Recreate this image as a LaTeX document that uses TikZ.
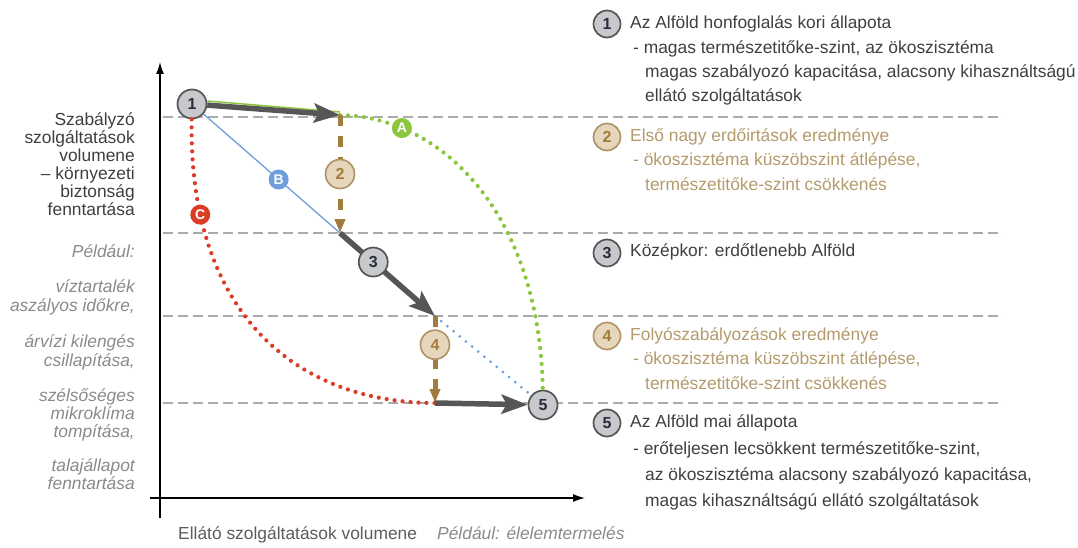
\documentclass[tikz,border=0pt]{standalone}
\usepackage{fontspec}
\setmainfont{Liberation Sans}
\usetikzlibrary{arrows.meta}

\definecolor{txtgray}{HTML}{3F3F3F}
\definecolor{itgray}{HTML}{8A8A8A}
\definecolor{tantxt}{HTML}{B49A6C}
\definecolor{tanfill}{HTML}{E6D7BC}
\definecolor{tanring}{HTML}{B0956A}
\definecolor{dropbrown}{HTML}{A17C3E}
\definecolor{fwdgray}{HTML}{565656}
\definecolor{numfill}{HTML}{C8C9CC}
\definecolor{numring}{HTML}{555555}
\definecolor{numtxt}{HTML}{2A2C3A}
\definecolor{guidegray}{HTML}{ABABAB}
\definecolor{greenA}{HTML}{8CC63F}
\definecolor{blueB}{HTML}{6E9EDB}
\definecolor{redC}{HTML}{DC3C25}

\tikzset{
  num/.style={circle,solid,draw=numring,fill=numfill,line width=1.7pt,minimum size=29pt,inner sep=0pt,
    text=numtxt,font=\bfseries\fontsize{16}{16}\selectfont},
  numtan/.style={num,draw=tanring,fill=tanfill,text=dropbrown},
  lbl/.style={circle,solid,inner sep=0pt,minimum size=20pt,text=white,font=\bfseries\fontsize{14}{14}\selectfont},
  guide/.style={guidegray,line width=1.1pt,dash pattern=on 10pt off 5pt},
  fwd/.style={fwdgray,line width=5.5pt,-{Stealth[length=26pt,width=19pt,inset=5pt]}},
  drop/.style={dropbrown,line width=5pt,dash pattern=on 11pt off 10pt,-{Triangle[length=14pt,width=10pt]}},
  dotline/.style={line width=4.2pt,line cap=round,dash pattern=on 0pt off 8pt},
  txtline/.style={inner sep=0pt,text height=12pt,text depth=3.5pt,anchor=west,text=txtgray,
    font=\fontsize{17.4}{20}\selectfont},
  leftline/.style={txtline,anchor=east},
  itline/.style={leftline,text=itgray,font=\fontsize{17.4}{20}\selectfont\itshape},
}

\begin{document}
\begin{tikzpicture}[x=1pt,y=-1pt]
\useasboundingbox (0,0) rectangle (1078,548);
% axes
\draw[line width=1.3pt,-{Latex[length=12pt,width=8pt]}] (160,518)--(160,62);
\draw[line width=1.3pt,-{Latex[length=12pt,width=8pt]}] (150,498)--(585,498);
% levels
\foreach \y in {117,233,316,403} \draw[guide] (163,\y)--(1003,\y);

\node[num] (n1) at (192,104) {1};
\node[num] (n5) at (543,405) {5};
\coordinate (p1) at (340,115);
\coordinate (p2) at (340,233);
\coordinate (p3) at (435,316);
\coordinate (p4) at (435,403);

% A, B, C
\draw[greenA,line width=1.5pt] ([yshift=3pt]n1.east)--([yshift=3pt]p1);
\draw[dotline,greenA] (p1) .. controls (447,117) and (540,220) .. (n5)
  node[lbl,fill=greenA,pos=0.2] (a) {A};
\draw[blueB,line width=1.3pt] (n1)--node[lbl,fill=blueB,pos=0.55] (b) {B}(p2);
\draw[dotline,blueB,line width=3pt] (p3)--(n5);
\draw[dotline,redC] (n1) .. controls (188,315) and (298,403) .. (p4)
  node[lbl,fill=redC,pos=0.18] (c) {C};

% path 1-5
\draw[fwd] (n1)--(p1);
\draw[drop] (p1)--node[numtan] (n2) {2}(p2);
\draw[fwd] (p2)--node[num,pos=0.35] (n3) {3}(p3);
\draw[drop] (p3)--node[numtan,pos=0.33] (n4) {4}(p4);
\draw[fwd] (p4)--(n5);

% y axis text
\node[leftline] (y1) at (135,121) {Szabályzó};
\node[leftline] (y2) at (135,139) {szolgáltatások};
\node[leftline] (y3) at (135,157) {volumene};
\node[leftline] (y4) at (135,175) {– környezeti};
\node[leftline] (y5) at (135,193) {biztonság};
\node[leftline] (y6) at (135,211) {fenntartása};
\node[itline] (e0) at (135,253) {Például:};
\node[itline] (e1) at (135,288) {víztartalék};
\node[itline] (e2) at (135,307) {aszályos időkre,};
\node[itline] (e3) at (135,343) {árvízi kilengés};
\node[itline] (e4) at (135,362) {csillapítása,};
\node[itline] (e5) at (135,397) {szélsőséges};
\node[itline] (e6) at (135,415) {mikroklíma};
\node[itline] (e7) at (135,433) {tompítása,};
\node[itline] (e8) at (135,467) {talajállapot};
\node[itline] (e9) at (135,485) {fenntartása};

% x axis text
\node[txtline,text=txtgray!85] (x1) at (178,535) {Ellátó szolgáltatások volumene};
\node[txtline,text=itgray,font=\fontsize{17.4}{20}\selectfont\itshape] (x2) at (437,535) {Például: élelemtermelés};

% legend
\node[num,minimum size=27pt] (l1) at (607,24) {1};
\node[txtline] (t1) at (630,24) {Az Alföld honfoglalás kori állapota};
\node[txtline] (t1a) at (633,49) {- magas természetitőke-szint, az ökoszisztéma};
\node[txtline] (t1b) at (645,73) {magas szabályozó kapacitása, alacsony kihasználtságú};
\node[txtline] (t1c) at (645,97) {ellátó szolgáltatások};

\node[numtan,minimum size=27pt] (l2) at (607,137) {2};
\node[txtline,text=tantxt] (t2) at (630,137) {Első nagy erdőirtások eredménye};
\node[txtline,text=tantxt] (t2a) at (633,161) {- ökoszisztéma küszöbszint átlépése,};
\node[txtline,text=tantxt] (t2b) at (645,186) {természetitőke-szint csökkenés};

\node[num,minimum size=27pt] (l3) at (607,253) {3};
\node[txtline] (t3) at (630,252) {Középkor: erdőtlenebb Alföld};

\node[numtan,minimum size=27pt] (l4) at (607,336) {4};
\node[txtline,text=tantxt] (t4) at (630,336) {Folyószabályozások eredménye};
\node[txtline,text=tantxt] (t4a) at (633,360) {- ökoszisztéma küszöbszint átlépése,};
\node[txtline,text=tantxt] (t4b) at (645,385) {természetitőke-szint csökkenés};

\node[num,minimum size=27pt] (l5) at (607,423) {5};
\node[txtline] (t5) at (630,423) {Az Alföld mai állapota};
\node[txtline] (t5a) at (633,450) {- erőteljesen lecsökkent természetitőke-szint,};
\node[txtline] (t5b) at (645,476) {az ökoszisztéma alacsony szabályozó kapacitása,};
\node[txtline] (t5c) at (645,502) {magas kihasználtságú ellátó szolgáltatások};
\end{tikzpicture}
\end{document}
